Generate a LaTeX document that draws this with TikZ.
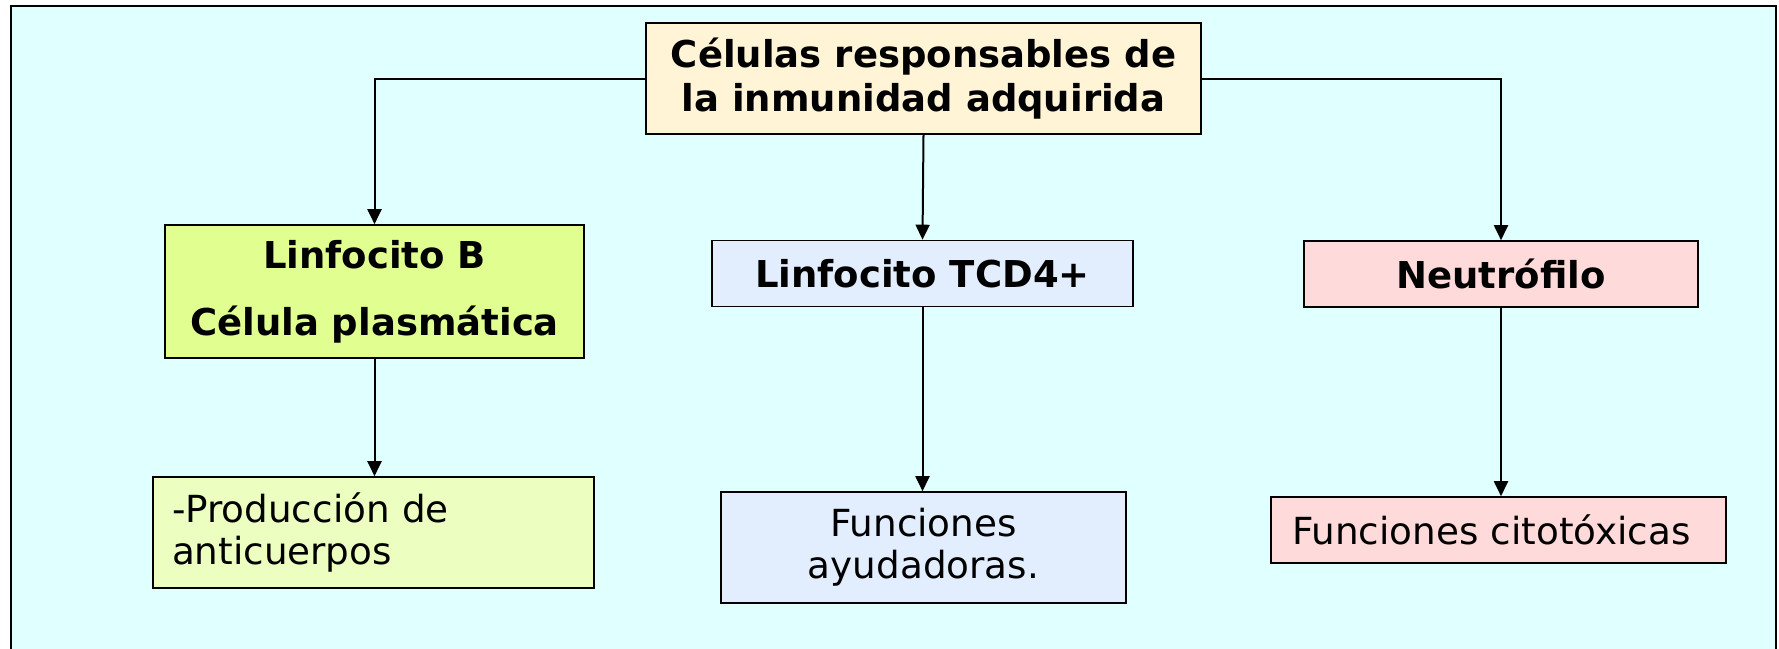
\documentclass[tikz,border=0pt]{standalone}
\usepackage{fontspec}
\setmainfont{DejaVu Sans}
\usetikzlibrary{arrows.meta,positioning}
\definecolor{sky}{RGB}{224,255,255}
\definecolor{cream}{RGB}{255,245,214}
\definecolor{lime}{RGB}{224,255,144}
\definecolor{palelime}{RGB}{236,255,192}
\definecolor{paleblue}{RGB}{226,238,254}
\definecolor{palerose}{RGB}{255,218,218}
\tikzset{lnk/.style={line width=2pt, -{Triangle[length=15pt,width=14pt]}},
  cell/.style={draw, line width=1.6pt, align=center, inner sep=0pt,
    font=\fontsize{37.3}{42}\selectfont},
  hd/.style={cell, font=\bfseries\fontsize{37}{44}\selectfont}}

\begin{document}
\begin{tikzpicture}[x=1pt, y=-1pt]
  \useasboundingbox (0,0) rectangle (1779,648);
  \draw[line width=2pt, fill=sky] (11,5.5) rectangle (1776,700);
  % root and the three cell types
  \node[hd, fill=cream, minimum width=555pt, minimum height=111pt] (root) at (923.5,78.5)
    {Células responsables de\\la inmunidad adquirida};
  \node[hd, fill=lime, minimum width=419pt, minimum height=133pt] (lb) at (374.5,291.5)
    {Linfocito B\\[23pt]Célula plasmática};
  \node[hd, fill=paleblue, minimum width=421pt, minimum height=66pt] (tcd) at (922.5,273.5)
    {Linfocito TCD4+};
  \node[hd, fill=palerose, minimum width=394pt, minimum height=66pt] (neu) at (1501,274)
    {Neutrófilo};
  % what each one does
  \node[cell, fill=palelime, minimum width=441pt, minimum height=111pt, text width=403pt,
    align=left] (prod) at (373.5,532.5) {-Producción de\\anticuerpos};
  \node[cell, fill=paleblue, minimum width=405pt, minimum height=111pt] (ayu) at (923.5,547.5)
    {Funciones\\ayudadoras.};
  \node[cell, fill=palerose, minimum width=455pt, minimum height=66pt, text width=413pt,
    align=left] (cito) at (1498.5,530) {Funciones citotóxicas};
  % links
  \draw[lnk] (root.west) -| (lb.north);
  \draw[lnk] (root.east) -| (neu.north);
  \draw[lnk] (root.south) -- (tcd.north);
  \foreach \a/\b in {lb/prod,tcd/ayu,neu/cito}{
    \draw[lnk] (\a.south) -- (\a.south |- \b.north);}
\end{tikzpicture}
\end{document}
